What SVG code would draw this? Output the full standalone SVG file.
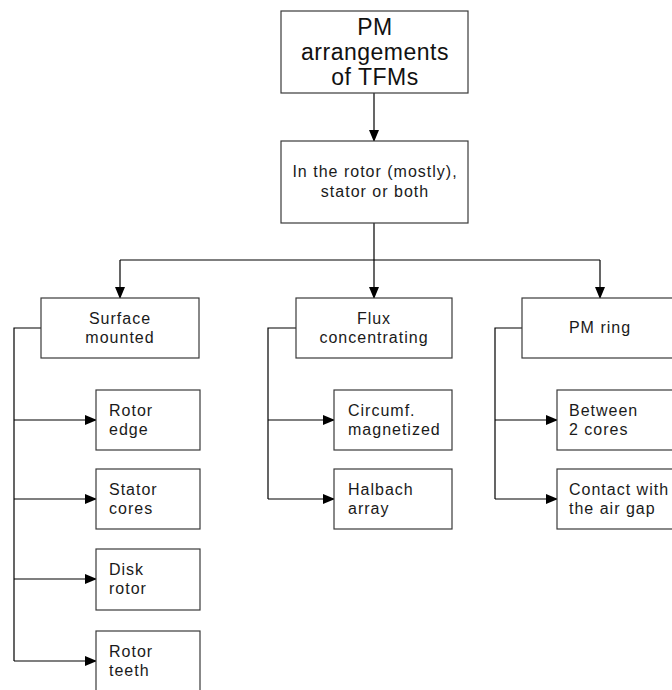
<svg xmlns="http://www.w3.org/2000/svg" width="672" height="690" viewBox="0 0 672 690">
<defs>
<marker id="ah" markerWidth="12" markerHeight="10" refX="11" refY="5" orient="auto" markerUnits="userSpaceOnUse">
<path d="M0,0 L12,5 L0,10 Z" fill="#000"/>
</marker>
<style>
rect.n{fill:#fff;stroke:#3a3a3a;stroke-width:1.2}
text{font-family:"Liberation Sans",Arial,sans-serif;fill:#1a1a1a;font-size:16px;letter-spacing:1px}
text.t{font-size:23px;letter-spacing:0.5px;fill:#111}
text.c{text-anchor:middle}
.e{fill:none;stroke:#000;stroke-width:1.2}
</style>
</defs>
<rect width="672" height="690" fill="#fff"/>
<g id="connectors">
<path class="e" d="M374,93 V141" marker-end="url(#ah)"/>
<path class="e" d="M374,223 V260 M120,260 H600"/>
<path class="e" d="M120,260 V298" marker-end="url(#ah)"/>
<path class="e" d="M374,260 V298" marker-end="url(#ah)"/>
<path class="e" d="M600,260 V298" marker-end="url(#ah)"/>
<path class="e" d="M41,328 H14 V661"/>
<path class="e" d="M14,420 H96" marker-end="url(#ah)"/>
<path class="e" d="M14,499 H96" marker-end="url(#ah)"/>
<path class="e" d="M14,579 H96" marker-end="url(#ah)"/>
<path class="e" d="M14,661 H96" marker-end="url(#ah)"/>
<path class="e" d="M296,328 H268 V499"/>
<path class="e" d="M268,420 H334" marker-end="url(#ah)"/>
<path class="e" d="M268,499 H334" marker-end="url(#ah)"/>
<path class="e" d="M522,328 H495 V499"/>
<path class="e" d="M495,420 H557" marker-end="url(#ah)"/>
<path class="e" d="M495,499 H557" marker-end="url(#ah)"/>
</g>
<g id="root">
<rect class="n" x="281" y="11" width="187" height="82"/>
<text class="t c" x="375" y="35">PM</text>
<text class="t c" x="375" y="60">arrangements</text>
<text class="t c" x="375" y="85">of TFMs</text>
</g>
<g id="location">
<rect class="n" x="281" y="141" width="187" height="82"/>
<text class="c" x="375" y="177">In the rotor (mostly),</text>
<text class="c" x="375" y="197">stator or both</text>
</g>
<g id="surface">
<rect class="n" x="41" y="298" width="158" height="60"/>
<text class="c" x="120" y="324">Surface</text>
<text class="c" x="120" y="343">mounted</text>
</g>
<g id="flux">
<rect class="n" x="296" y="298" width="156" height="60"/>
<text class="c" x="374" y="324">Flux</text>
<text class="c" x="374" y="343">concentrating</text>
</g>
<g id="pmring">
<rect class="n" x="522" y="298" width="156" height="60"/>
<text class="c" x="600" y="333">PM ring</text>
</g>
<g id="rotoredge">
<rect class="n" x="96" y="390" width="104" height="60"/>
<text x="109" y="416">Rotor</text>
<text x="109" y="435">edge</text>
</g>
<g id="statorcores">
<rect class="n" x="96" y="469" width="104" height="60"/>
<text x="109" y="495">Stator</text>
<text x="109" y="514">cores</text>
</g>
<g id="diskrotor">
<rect class="n" x="96" y="549" width="104" height="61"/>
<text x="109" y="575">Disk</text>
<text x="109" y="594">rotor</text>
</g>
<g id="rotorteeth">
<rect class="n" x="96" y="631" width="104" height="70"/>
<text x="109" y="657">Rotor</text>
<text x="109" y="676">teeth</text>
</g>
<g id="circumf">
<rect class="n" x="334" y="390" width="118" height="60"/>
<text x="348" y="416">Circumf.</text>
<text x="348" y="435">magnetized</text>
</g>
<g id="halbach">
<rect class="n" x="334" y="469" width="118" height="60"/>
<text x="348" y="495">Halbach</text>
<text x="348" y="514">array</text>
</g>
<g id="between">
<rect class="n" x="557" y="390" width="120" height="60"/>
<text x="569" y="416">Between</text>
<text x="569" y="435">2 cores</text>
</g>
<g id="contact">
<rect class="n" x="557" y="469" width="120" height="60"/>
<text x="569" y="495">Contact with</text>
<text x="569" y="514">the air gap</text>
</g>
</svg>
